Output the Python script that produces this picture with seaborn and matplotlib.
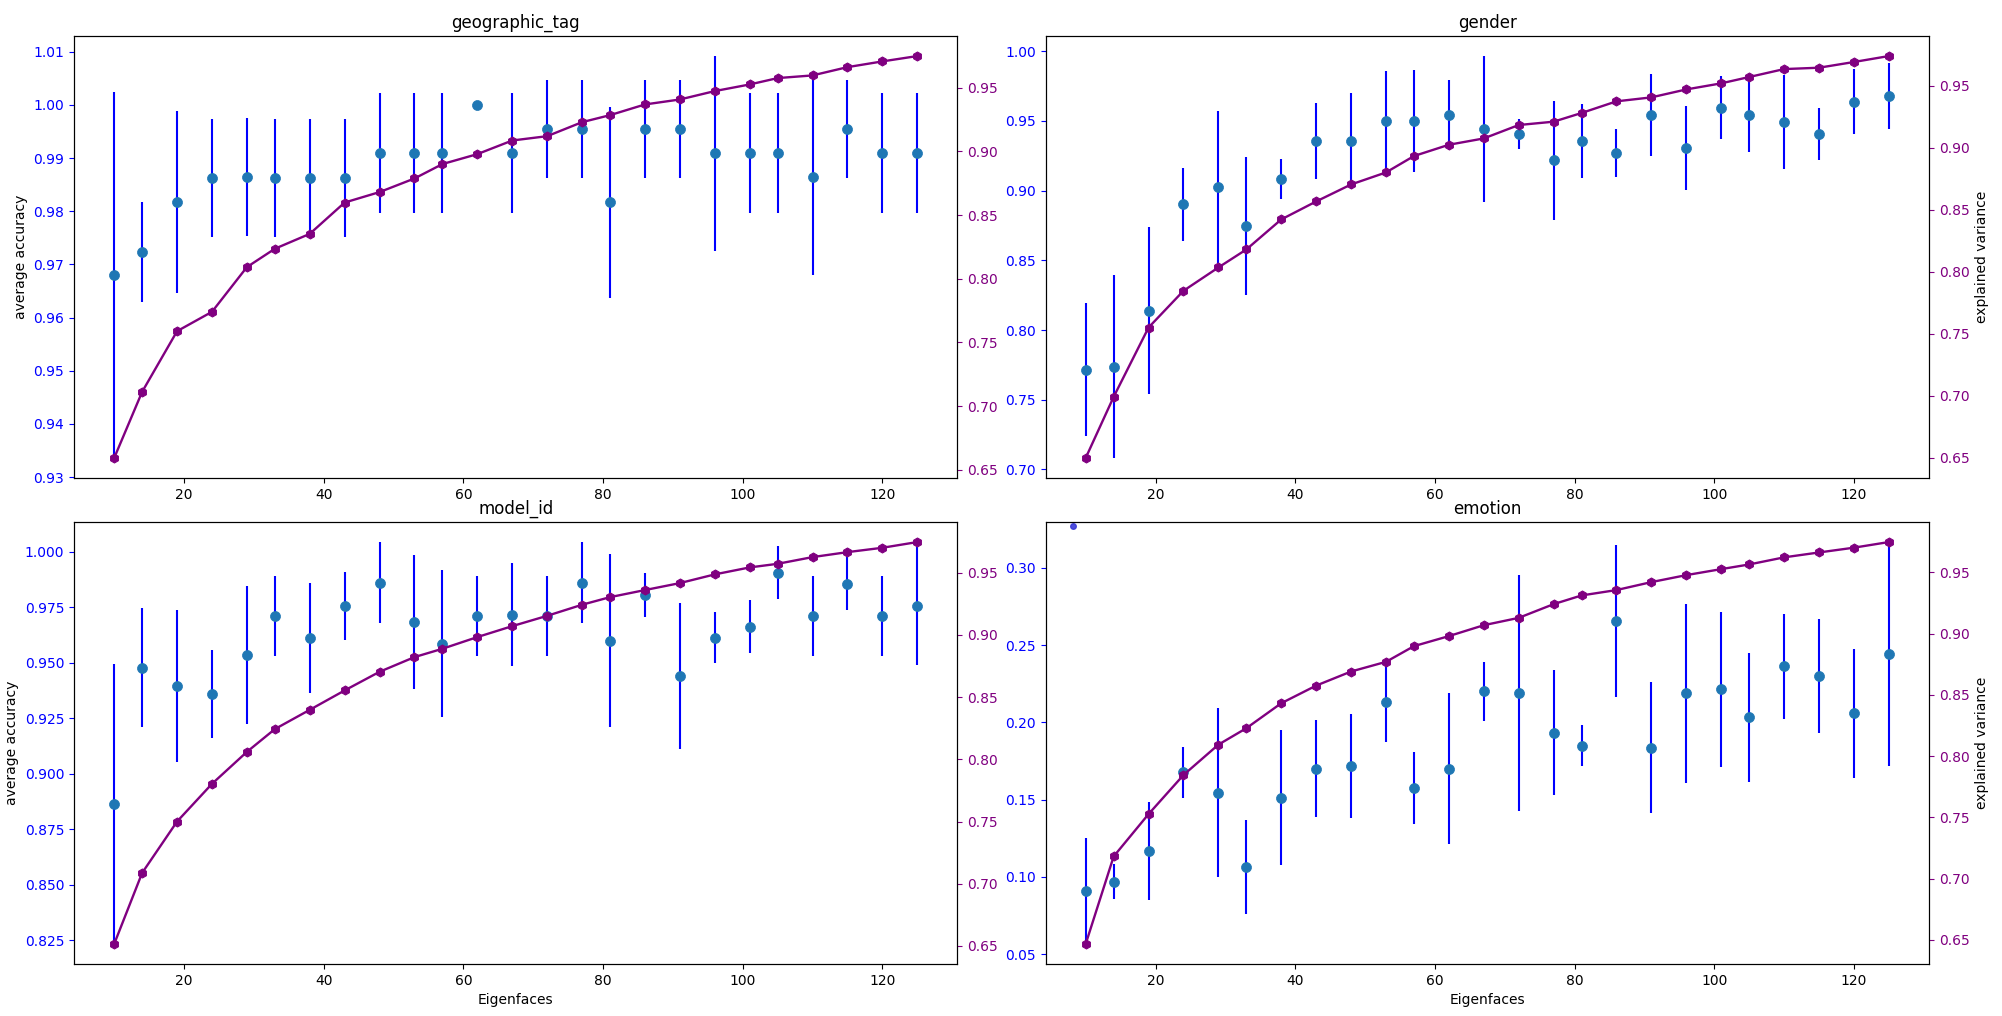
import matplotlib
matplotlib.use("Agg")
import matplotlib.pyplot as plt
import seaborn as sns
import pandas as pd
import numpy as np

eigenfaces = [10, 14, 19, 24, 29, 33, 38, 43, 48, 53, 57, 62, 67, 72, 77, 81, 86, 91, 96, 101, 105, 110, 115, 120, 125]

titles = ["geographic_tag", "gender", "model_id", "emotion"]

acc_geo = [0.968, 0.9723, 0.9817, 0.9862, 0.9864, 0.9862, 0.9862, 0.9862, 0.9909, 0.9909, 0.9909, 1.0, 0.9909,
           0.9955, 0.9955, 0.9817, 0.9955, 0.9955, 0.9909, 0.9909, 0.9909, 0.9864, 0.9955, 0.9909, 0.9909]
err_geo = [0.0344, 0.0094, 0.0171, 0.0111, 0.0111, 0.0111, 0.0111, 0.0111, 0.0113, 0.0113, 0.0113, 0.0, 0.0113,
           0.0092, 0.0092, 0.0180, 0.0092, 0.0092, 0.0183, 0.0113, 0.0113, 0.0184, 0.0092, 0.0113, 0.0113]
var_geo = [0.6594, 0.7113, 0.7589, 0.7741, 0.8092, 0.8236, 0.8353, 0.8599, 0.8681, 0.8788, 0.8901, 0.8979, 0.9086,
           0.9120, 0.9230, 0.9285, 0.9369, 0.9408, 0.9474, 0.9526, 0.9576, 0.9597, 0.9662, 0.9707, 0.9749]

acc_gender = [0.7716, 0.7738, 0.8140, 0.8902, 0.9025, 0.8744, 0.9082, 0.9355, 0.9355, 0.9499, 0.9499, 0.9542, 0.9442,
              0.9406, 0.9219, 0.9355, 0.9269, 0.9542, 0.9305, 0.9593, 0.9542, 0.9492, 0.9406, 0.9636, 0.9679]
err_gender = [0.0477, 0.0655, 0.0600, 0.0262, 0.0545, 0.0495, 0.0145, 0.0273, 0.0343, 0.0360, 0.0368, 0.0250, 0.0523,
              0.0110, 0.0427, 0.0265, 0.0172, 0.0294, 0.0302, 0.0226, 0.0262, 0.0340, 0.0188, 0.0233, 0.0235]
var_gender = [0.6500, 0.6992, 0.7551, 0.7847, 0.8035, 0.8180, 0.8422, 0.8567, 0.8704, 0.8801, 0.8933, 0.9024, 0.9075,
              0.9183, 0.9210, 0.9280, 0.9374, 0.9406, 0.9470, 0.9519, 0.9570, 0.9634, 0.9645, 0.9691, 0.9739]

acc_model = [0.8863, 0.9477, 0.9396, 0.9360, 0.9535, 0.9711, 0.9612, 0.9756, 0.9860, 0.9684, 0.9585, 0.9711, 0.9716,
             0.9711, 0.9860, 0.9599, 0.9806, 0.9441, 0.9612, 0.9662, 0.9905, 0.9711, 0.9856, 0.9711, 0.9756]
err_model = [0.0630, 0.0267, 0.0342, 0.0199, 0.0311, 0.0180, 0.0247, 0.0153, 0.0183, 0.0301, 0.0331, 0.0180, 0.0232,
             0.0180, 0.0183, 0.0391, 0.0099, 0.0328, 0.0115, 0.0119, 0.0118, 0.0180, 0.0119, 0.0180, 0.0266]
var_model = [0.6516, 0.7087, 0.7500, 0.7803, 0.8060, 0.8243, 0.8398, 0.8554, 0.8704, 0.8822, 0.8889, 0.8983, 0.9071,
             0.9154, 0.9243, 0.9304, 0.9361, 0.9417, 0.9487, 0.9543, 0.9572, 0.9626, 0.9666, 0.9701, 0.9747]

acc_emotion = [0.0909, 0.0968, 0.1167, 0.1676, 0.1544, 0.1063, 0.1512, 0.1700, 0.1720, 0.2133, 0.1577, 0.1700, 0.2201,
               0.2188, 0.1934, 0.1850, 0.2656, 0.1837, 0.2188, 0.2214, 0.2032, 0.2363, 0.2298, 0.2058, 0.2441]
err_emotion = [0.0343, 0.0112, 0.0320, 0.0164, 0.0546, 0.0305, 0.0438, 0.0315, 0.0337, 0.0258, 0.0234, 0.0490, 0.0190,
               0.0765, 0.0403, 0.0130, 0.0494, 0.0422, 0.0580, 0.0500, 0.0418, 0.0340, 0.0370, 0.0420, 0.0726]
var_emotion = [0.6467, 0.7181, 0.7527, 0.7846, 0.8094, 0.8228, 0.8432, 0.8576, 0.8691, 0.8770, 0.8898, 0.8980, 0.9069,
               0.9129, 0.9241, 0.9312, 0.9356, 0.9421, 0.9478, 0.9527, 0.9565, 0.9623, 0.9663, 0.9702, 0.9748]

stray_x = [8.2]
stray_y = [0.3273]

accs = [acc_geo, acc_gender, acc_model, acc_emotion]
errs = [err_geo, err_gender, err_model, err_emotion]
vars_ = [var_geo, var_gender, var_model, var_emotion]

fig, axes = plt.subplots(2, 2, figsize=(20.02, 10.16), dpi=100)
fig.subplots_adjust(left=0.037, right=0.9635, top=0.9646, bottom=0.0512, wspace=0.0998, hspace=0.0995)

for i, ax in enumerate(axes.flat):
    df = pd.DataFrame({"eigenfaces": eigenfaces, "acc": accs[i], "err": errs[i], "var": vars_[i]})
    ax.errorbar(df["eigenfaces"], df["acc"], yerr=df["err"], fmt="none", ecolor="blue", elinewidth=1.5)
    sns.scatterplot(data=df, x="eigenfaces", y="acc", ax=ax, color="#1f77b4", s=52,
                    edgecolor="#1f77b4", linewidth=0.5, zorder=3)
    ax.tick_params(axis="y", colors="blue")
    ax.set_title(titles[i], fontsize=12)
    ax.set_ylabel("average accuracy" if i % 2 == 0 else "")
    ax.set_xlabel("Eigenfaces" if i >= 2 else "")

    ax2 = ax.twinx()
    sns.lineplot(data=df, x="eigenfaces", y="var", ax=ax2, color="purple", marker="h",
                 markersize=6.5, markeredgecolor="purple", linewidth=1.7)
    ax2.tick_params(axis="y", colors="purple")
    ax2.set_ylabel("explained variance" if i % 2 == 1 else "")
    ax2.set_xlabel("")

    if i == 3:
        xl = ax.get_xlim()
        yl = ax.get_ylim()
        ax.plot(stray_x, stray_y, "o", color="#3a3ad6", markersize=4, alpha=0.9)
        ax.set_xlim(xl)
        ax.set_ylim(yl)

fig.savefig("out.png", dpi=100)
